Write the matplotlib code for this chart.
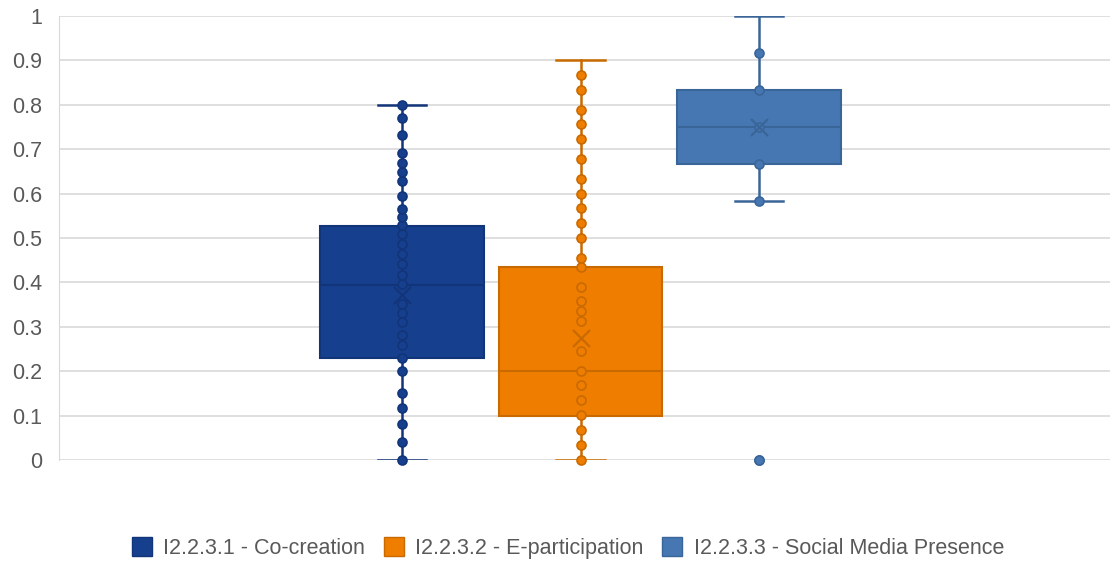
import numpy as np
import matplotlib.pyplot as plt
from matplotlib.patches import Patch

plt.rcParams['font.family'] = ['Liberation Sans', 'DejaVu Sans']

# --- Data ---
labels = ["I2.2.3.1 - Co-creation", "I2.2.3.2 - E-participation", "I2.2.3.3 - Social Media Presence"]

cocreation = [0.0, 0.041, 0.082, 0.116, 0.152, 0.201, 0.23, 0.258, 0.282, 0.31, 0.33, 0.351,
              0.396, 0.416, 0.441, 0.463, 0.486, 0.509, 0.529, 0.547, 0.566, 0.594, 0.629,
              0.649, 0.67, 0.692, 0.733, 0.771, 0.8]
eparticipation = [0.0, 0.034, 0.068, 0.101, 0.135, 0.17, 0.201, 0.245, 0.312, 0.335, 0.357,
                  0.389, 0.434, 0.456, 0.501, 0.534, 0.568, 0.6, 0.634, 0.678, 0.722, 0.757,
                  0.788, 0.833, 0.866]
social = [0.0, 0.583, 0.667, 0.75, 0.833, 0.917]

# box stats as shown (Excel quartiles)
q1 = [0.23, 0.10, 0.667]
med = [0.395, 0.20, 0.75]
q3 = [0.528, 0.434, 0.833]
whislo = [0.0, 0.0, 0.583]
whishi = [0.8, 0.9, 1.0]
means = [0.372, 0.275, 0.75]
outliers = [[], [], [0.0]]

series = [cocreation, eparticipation, social]
colors = ["#163F8E", "#EE7D00", "#4677B2"]
edges = ["#12357A", "#C96A00", "#3A6598"]
positions = [1, 2, 3]

fig = plt.figure(figsize=(11.1, 5.62), dpi=100)
ax = fig.add_axes([59 / 1110, 102 / 562, 1 - 59 / 1110, 444 / 562])

for i in range(3):
    stats = [dict(q1=q1[i], med=med[i], q3=q3[i], whislo=whislo[i], whishi=whishi[i],
                  mean=means[i], fliers=[])]
    ax.bxp(stats, positions=[positions[i]], widths=0.915, patch_artist=True,
           showmeans=False, showfliers=False,
           boxprops=dict(facecolor=colors[i], edgecolor=edges[i], linewidth=1.5),
           medianprops=dict(color=edges[i], linewidth=1.5),
           whiskerprops=dict(color=edges[i], linewidth=1.8),
           capprops=dict(color=edges[i], linewidth=1.8),
           capwidths=0.27)
    # data points
    pts = np.array(series[i] + outliers[i])
    ax.scatter(np.full(len(pts), positions[i]), pts, s=42, facecolor=colors[i],
               edgecolor=edges[i], linewidth=1.2, zorder=4, clip_on=False)
    # mean marker
    ax.scatter([positions[i]], [means[i]], marker='x', s=150, color=edges[i],
               linewidth=1.6, zorder=5)

ax.set_xlim(1 - 343 / 178.5, 1 + 708 / 178.5)
ax.set_ylim(0, 1)
ax.set_yticks(np.arange(0, 1.01, 0.1))
ax.set_yticklabels(["0", "0.1", "0.2", "0.3", "0.4", "0.5", "0.6", "0.7", "0.8", "0.9", "1"])
ax.set_xticks([])
ax.tick_params(axis='y', length=0, pad=12, labelsize=15.5, labelcolor="#595959")
ax.grid(axis='y', color="#D9D9D9", linewidth=1.2)
ax.set_axisbelow(True)
for s in ["top", "right", "bottom"]:
    ax.spines[s].set_visible(False)
ax.spines["left"].set_color("#D9D9D9")

handles = [Patch(facecolor=colors[i], edgecolor=edges[i], label=labels[i]) for i in range(3)]
fig.legend(handles=handles, loc='center', bbox_to_anchor=(568 / 1110, 1 - 548 / 562),
           ncol=3, frameon=False, fontsize=15.5, labelcolor="#595959",
           handlelength=0.93, handleheight=0.93, handletextpad=0.55, columnspacing=0.85)

fig.savefig("out.png", dpi=100)
